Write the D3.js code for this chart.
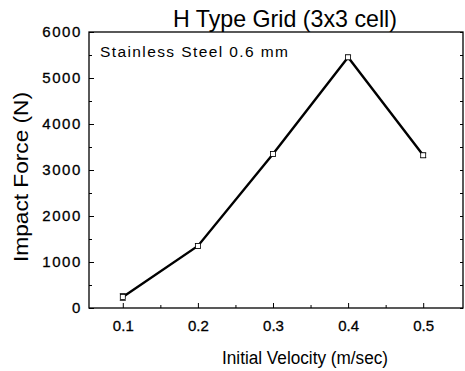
<!DOCTYPE html>
<html>
<head>
<meta charset="utf-8">
<script src="https://cdn.jsdelivr.net/npm/d3@7"></script>
<style>
  body { margin: 0; background: #fff; }
  text { font-family: "Liberation Sans", Arial, sans-serif; fill: #000; }
</style>
</head>
<body>
<div id="chart"></div>
<script>
// Chart data
var velocity = [0.1, 0.2, 0.3, 0.4, 0.5];
var force = [240, 1350, 3350, 5450, 3320];
var forceErr = [75, 50, 50, 50, 50];
var xTicks = [0.1, 0.2, 0.3, 0.4, 0.5];
var yTicks = [0, 1000, 2000, 3000, 4000, 5000, 6000];

var margin = {top: 32, right: 2, bottom: 63, left: 89};
var width = 465 - margin.left - margin.right;
var height = 371 - margin.top - margin.bottom;

var svg = d3.select("#chart")
    .append("svg")
    .attr("width", 465)
    .attr("height", 371)
    .append("g")
    .attr("transform", "translate(" + margin.left + "," + margin.top + ")");

var x = d3.scaleLinear().domain([0.055, 0.553]).range([0, width]);
var y = d3.scaleLinear().domain([0, 6000]).range([height, 0]);

// Minor ticks (inward)
var xMinor = [0.15, 0.25, 0.35, 0.45];
var yMinor = [500, 1500, 2500, 3500, 4500, 5500];

svg.append("g")
    .attr("transform", "translate(0," + height + ")")
    .call(d3.axisBottom(x).tickValues(xMinor).tickSize(-3).tickFormat(""))
    .call(function(g) { g.select(".domain").remove(); });
svg.append("g")
    .call(d3.axisLeft(y).tickValues(yMinor).tickSize(-3).tickFormat(""))
    .call(function(g) { g.select(".domain").remove(); });
svg.append("g")
    .attr("transform", "translate(" + width + ",0)")
    .call(d3.axisRight(y).tickValues(yMinor.concat(yTicks)).tickSize(-3).tickFormat(""))
    .call(function(g) { g.select(".domain").remove(); });

// Major axes
svg.append("g")
    .attr("transform", "translate(0," + height + ")")
    .call(d3.axisBottom(x).tickValues(xTicks).tickSize(-5).tickPadding(12).tickFormat(d3.format(".1f")))
    .call(function(g) {
        g.select(".domain").remove();
        g.selectAll("text").style("font-size", "15px").style("stroke", "#000").style("stroke-width", 0.3);
    });

svg.append("g")
    .call(d3.axisLeft(y).tickValues(yTicks).tickSize(-5).tickPadding(7).tickFormat(d3.format("d")))
    .call(function(g) {
        g.select(".domain").remove();
        g.selectAll("text").style("font-size", "15px").style("letter-spacing", "1.6px")
            .style("stroke", "#000").style("stroke-width", 0.3);
    });

// Frame
svg.append("rect")
    .attr("width", width)
    .attr("height", height)
    .attr("fill", "none")
    .attr("stroke", "#000")
    .attr("stroke-width", 1.3);

// Data line
svg.append("path")
    .datum(velocity)
    .attr("fill", "none")
    .attr("stroke", "#000")
    .attr("stroke-width", 2.4)
    .attr("d", d3.line()
        .x(function(d) { return x(d); })
        .y(function(d, i) { return y(force[i]); }));

// Error bars with small open square markers
var err = svg.append("g").attr("stroke", "#000").attr("stroke-width", 0.8);
velocity.forEach(function(v, i) {
    var cx = x(v);
    err.append("line")
        .attr("x1", cx - 3).attr("x2", cx + 3)
        .attr("y1", y(force[i] - forceErr[i])).attr("y2", y(force[i] - forceErr[i]));
    err.append("line")
        .attr("x1", cx - 3).attr("x2", cx + 3)
        .attr("y1", y(force[i] + forceErr[i])).attr("y2", y(force[i] + forceErr[i]));
    err.append("rect")
        .attr("x", cx - 2.5).attr("y", y(force[i]) - 2.5)
        .attr("width", 5).attr("height", 5)
        .attr("fill", "#fff");
});

// Title
svg.append("text")
    .attr("x", 196)
    .attr("y", -5)
    .attr("text-anchor", "middle")
    .attr("textLength", 224)
    .attr("lengthAdjust", "spacingAndGlyphs")
    .style("font-size", "24px")
    .text("H Type Grid (3x3 cell)");

// Annotation
svg.append("text")
    .attr("x", 11)
    .attr("y", 25)
    .style("font-size", "15.5px")
    .style("letter-spacing", "1.4px")
    .text("Stainless Steel 0.6 mm");

// X axis label
svg.append("text")
    .attr("x", 216)
    .attr("y", height + 56)
    .attr("text-anchor", "middle")
    .attr("textLength", 166)
    .attr("lengthAdjust", "spacingAndGlyphs")
    .style("font-size", "18px")
    .text("Initial Velocity (m/sec)");

// Y axis label
svg.append("text")
    .attr("transform", "rotate(-90)")
    .attr("x", -145)
    .attr("y", -61)
    .attr("text-anchor", "middle")
    .attr("textLength", 170)
    .attr("lengthAdjust", "spacingAndGlyphs")
    .style("font-size", "21px")
    .text("Impact Force (N)");
</script>
</body>
</html>
